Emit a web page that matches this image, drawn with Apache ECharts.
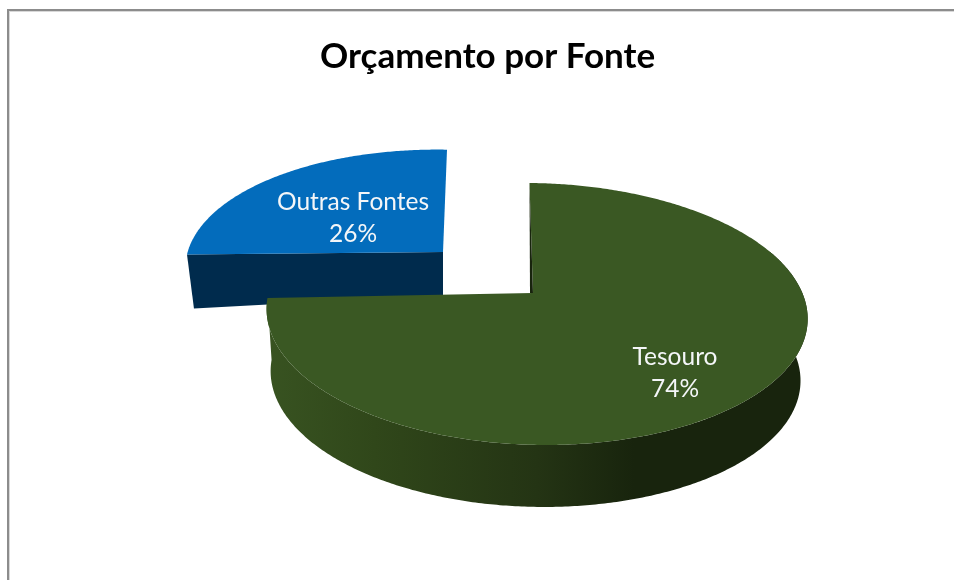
<!DOCTYPE html>
<html><head><meta charset="utf-8">
<style>html,body{margin:0;padding:0;background:#fff}#c{width:954px;height:580px}</style>
<script src="https://cdn.jsdelivr.net/npm/echarts@6/dist/echarts.min.js"></script>
</head><body><div id="c"></div>
<script>
const titleText = 'Orçamento por Fonte';
const categories = ['Tesouro', 'Outras Fontes'];
const values = [74, 26];
const total = values.reduce((a, b) => a + b, 0);

// View of each slice: top face and bottom face through a perspective projection
const views = [
  { top: {ax:533, ay:293, A:267, B:127.6, p:0.16, q:-0.013, kx:-3.5, ty:3},
    bot: {ax:533, ay:355, A:261.5, B:127.6, p:0.16, q:-0.0075, kx:-3.5, ty:3},
    face:'#3a5823', wall:[['0','#385321'],['0.2','#30471a'],['0.5','#243414'],['0.68','#18240d'],['1','#18240d']],
    sliver:'#18240d', label:[675,373], z:10 },
  { top: {ax:443, ay:252, A:257, B:118.7, p:0.16, q:-0.013, kx:4, ty:5},
    bot: {ax:443, ay:295, A:250, B:118.7, p:0.16, q:-0.013, kx:4, ty:-6},
    face:'#036cbc', wall:[['0','#002b4d'],['1','#002b4d']],
    label:[353,218], z:1 }
];
function project(v, th) {
  const s = Math.sin(th), c = Math.cos(th), w = 1 + v.p * c + v.q * s;
  return [v.ax + v.A * s / w + v.kx * c, v.ay - v.B * c / w + v.ty * s];
}
function arc(v, a0, a1) {
  const n = Math.max(2, Math.ceil(Math.abs(a1 - a0) / 0.01)), pts = [];
  for (let i = 0; i <= n; i++) pts.push(project(v, a0 + (a1 - a0) * i / n));
  return pts;
}
function renderItem(params, api) {
  const i = params.dataIndex, val = api.value(0), d = views[i];
  let start = 0;
  for (let k = 0; k < i; k++) start += values[k];
  const a0 = start / total * 2 * Math.PI, a1 = (start + val) / total * 2 * Math.PI;
  const children = [];
  const apexT = [d.top.ax, d.top.ay], apexB = [d.bot.ax, d.bot.ay];
  const grad = {type:'linear', x:0, y:0, x2:1, y2:0, colorStops:d.wall.map(s => ({offset:+s[0], color:s[1]}))};
  if (i === 0) {
    const from = 1.2;
    const wall = arc(d.top, from, a1).concat(arc(d.bot, a1, from));
    children.push({type:'polygon', z2:d.z, shape:{points:wall}, style:{fill:grad}});
  } else {
    const cT = project(d.top, a0), cB = project(d.bot, a0);
    children.push({type:'polygon', z2:d.z, shape:{points:[cT, apexT, apexB, cB]}, style:{fill:grad}});
  }
  const topPts = [apexT].concat(arc(d.top, a0, a1));
  children.push({type:'polygon', z2:d.z + 1, shape:{points:topPts}, style:{fill:d.face}});
  if (d.sliver) {
    const c0 = project(d.top, a0);
    children.push({type:'polygon', z2:d.z + 1, shape:{points:[c0, apexT, [apexT[0] - 3, apexT[1]]]}, style:{fill:d.sliver}});
  }
  children.push({type:'text', z2:d.z + 2, x:d.label[0], y:d.label[1], style:{
    text: categories[i] + '\n' + Math.round(val / total * 100) + '%',
    fill:'#f4f6f8', font:'24.5px Lato', lineHeight:32, align:'center', verticalAlign:'middle'
  }});
  return {type:'group', children};
}
const chart = echarts.init(document.getElementById('c'), null, {renderer:'canvas'});
chart.setOption({
  animation:false,
  backgroundColor:'#fff',
  title:{text:titleText, left:320, top:39, itemGap:0, padding:0,
    textStyle:{fontFamily:'Lato', fontWeight:'bold', fontSize:35, color:'#000'}},
  graphic:[
    {type:'rect', shape:{x:7,y:9,width:947,height:2}, style:{fill:'#8c8c8c'}, silent:true},
    {type:'rect', shape:{x:7,y:11,width:947,height:1}, style:{fill:'#d8d8d8'}, silent:true},
    {type:'rect', shape:{x:7,y:9,width:2,height:571}, style:{fill:'#8c8c8c'}, silent:true},
    {type:'rect', shape:{x:9,y:11,width:1,height:569}, style:{fill:'#d8d8d8'}, silent:true}
  ],
  series:[{type:'custom', coordinateSystem:'none', renderItem, clip:false,
    encode:{value:0}, data:values.map((v, i) => ({name:categories[i], value:[v]}))}]
});
</script></body></html>
